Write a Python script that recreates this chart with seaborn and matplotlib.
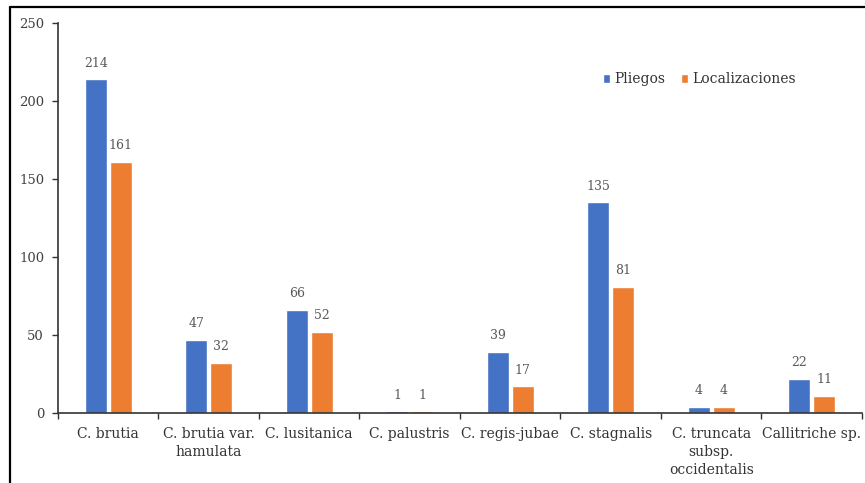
import matplotlib
matplotlib.use("Agg")
import matplotlib.pyplot as plt
from matplotlib.lines import Line2D
import seaborn as sns
import pandas as pd

# Herbarium sheets and localities per Callitriche taxon
taxa = [
    "C. brutia",
    "C. brutia var.\nhamulata",
    "C. lusitanica",
    "C. palustris",
    "C. regis-jubae",
    "C. stagnalis",
    "C. truncata\nsubsp.\noccidentalis",
    "Callitriche sp.",
]
pliegos = [214, 47, 66, 1, 39, 135, 4, 22]
localizaciones = [161, 32, 52, 1, 17, 81, 4, 11]
series = ["Pliegos", "Localizaciones"]
colors = ["#4472C4", "#ED7D31"]
y_ticks = [0, 50, 100, 150, 200, 250]

df = pd.DataFrame({
    "taxon": taxa * 2,
    "serie": [series[0]] * len(taxa) + [series[1]] * len(taxa),
    "valor": pliegos + localizaciones,
})

sns.set_theme(style="white")
plt.rcParams["font.family"] = ["DejaVu Serif"]

fig = plt.figure(figsize=(8.65, 4.83), dpi=100)
ax = fig.add_axes([0.067, 0.145, 0.9295, 0.807])

sns.barplot(data=df, x="taxon", y="valor", hue="serie", hue_order=series,
            palette=colors, width=0.5, gap=0.12, saturation=1,
            errorbar=None, ax=ax)

for cont in ax.containers:
    ax.bar_label(cont, padding=7, fontsize=9, color="#595959")

ax.set_xlim(-0.5, len(taxa) - 0.5)
ax.set_ylim(0, 250)
ax.set_yticks(y_ticks)
ax.set_xlabel("")
ax.set_ylabel("")

# category separators on the x axis
ax.set_xticks([i - 0.5 for i in range(len(taxa) + 1)], minor=True)
ax.set_xticks(range(len(taxa)))
ax.set_xticklabels(taxa, fontsize=10, color="#333333", linespacing=1.35)
ax.tick_params(axis="x", which="major", length=0, pad=10)
ax.tick_params(axis="x", which="minor", length=4, width=1, color="#333333",
               direction="out", bottom=True)
ax.tick_params(axis="y", length=4, width=1, color="#333333", direction="out",
               left=True, labelsize=9.5, labelcolor="#404040", pad=6)

for side in ["top", "right"]:
    ax.spines[side].set_visible(False)
for side in ["left", "bottom"]:
    ax.spines[side].set_color("#333333")
    ax.spines[side].set_linewidth(1.2)

leg = ax.legend(loc="center left", bbox_to_anchor=(0.662, 0.856), ncol=2,
                frameon=False, fontsize=10, handlelength=0.55,
                handleheight=0.55, handletextpad=0.3, columnspacing=1.1)
for t in leg.get_texts():
    t.set_color("#333333")

# frame lines along the left and top edges of the figure
x0 = 10 / 865
y0 = 1 - 7 / 483
fig.add_artist(Line2D([x0, x0], [0, y0], color="black", linewidth=1.6,
                      transform=fig.transFigure))
fig.add_artist(Line2D([x0, 1], [y0, y0], color="black", linewidth=1.6,
                      transform=fig.transFigure))

fig.savefig("out.png", dpi=100, facecolor="white")
